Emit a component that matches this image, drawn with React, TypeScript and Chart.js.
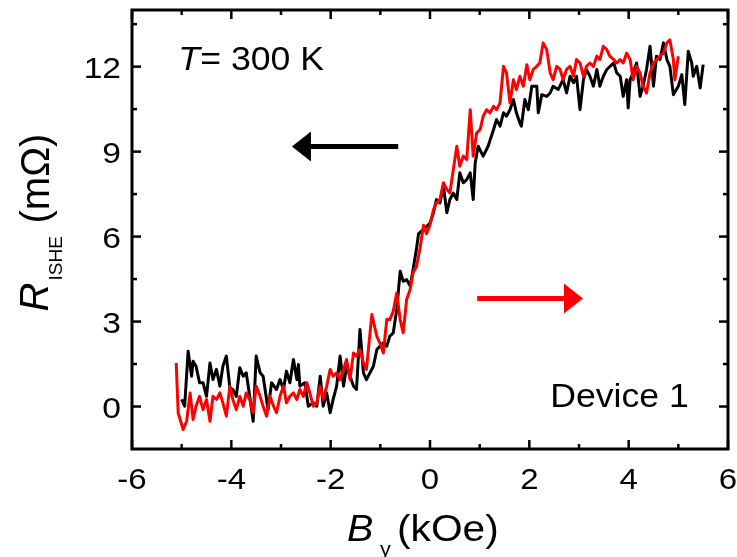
import React, { useEffect, useRef } from "react";
import { Chart, registerables } from "chart.js";

Chart.register(...registerables);

// ---- data (B_y in kOe, R_ISHE in mΩ) ----
const redPoints: number[][] = [
  [-5.11, 1.54], [-5.07, -0.22], [-4.97, -0.81], [-4.9, -0.52], [-4.83, 0.48], [-4.77, -0.46], [-4.71, 0.01], [-4.64, 0.36], [-4.57, -0.11], [-4.5, 0.25],
  [-4.43, -0.52], [-4.37, 0.36], [-4.3, 0.25], [-4.23, 0.48], [-4.17, 0.13], [-4.1, -0.34], [-4.03, 0.72], [-3.97, 0.25], [-3.9, -0.11], [-3.83, 0.36],
  [-3.76, 0.01], [-3.7, 0.48], [-3.63, 0.25], [-3.56, -0.22], [-3.5, 0.72], [-3.42, 0.36], [-3.36, 0.01], [-3.29, -0.34], [-3.22, 0.36], [-3.15, 0.01],
  [-3.09, -0.22], [-3.02, 0.36], [-2.95, 0.72], [-2.89, 0.13], [-2.82, 0.36], [-2.75, 0.48], [-2.68, 0.25], [-2.62, 0.6], [-2.55, 0.36], [-2.48, 0.84],
  [-2.42, 0.48], [-2.35, 0.01], [-2.28, 0.13], [-2.21, 0.72], [-2.15, 0.25], [-2.08, 0.72], [-2.01, 1.31], [-1.95, 1.07], [-1.88, 1.19], [-1.81, 0.95],
  [-1.74, 1.31], [-1.68, 1.66], [-1.61, 0.95], [-1.54, 1.89], [-1.48, 1.78], [-1.41, 2.01], [-1.34, 1.54], [-1.28, 1.31], [-1.17, 3.25], [-1.07, 2.48],
  [-1.01, 2.25], [-0.94, 1.89], [-0.87, 3.07], [-0.81, 3.07], [-0.74, 3.36], [-0.67, 4.01], [-0.6, 3.07], [-0.54, 2.6], [-0.47, 3.78], [-0.4, 4.13],
  [-0.34, 4.72], [-0.27, 4.95], [-0.2, 5.6], [-0.13, 6.4], [-0.07, 6.1], [0.0, 6.4], [0.07, 6.95], [0.13, 7.19], [0.2, 7.31], [0.27, 7.9],
  [0.34, 7.66], [0.4, 7.54], [0.47, 8.37], [0.54, 9.19], [0.6, 8.48], [0.67, 8.84], [0.74, 8.72], [0.81, 10.48], [0.87, 8.84], [0.94, 9.66],
  [1.01, 9.78], [1.07, 10.25], [1.14, 10.48], [1.21, 10.37], [1.28, 10.6], [1.34, 10.48], [1.41, 10.72], [1.48, 12.01], [1.54, 11.78], [1.61, 10.72],
  [1.68, 11.54], [1.74, 11.19], [1.81, 11.66], [1.88, 11.31], [1.95, 12.07], [2.01, 11.54], [2.08, 11.9], [2.15, 12.01], [2.21, 12.13], [2.28, 12.84],
  [2.35, 12.6], [2.42, 11.78], [2.48, 11.54], [2.55, 12.01], [2.62, 11.9], [2.68, 11.54], [2.75, 11.9], [2.82, 12.01], [2.89, 11.66], [2.95, 12.25],
  [3.02, 12.13], [3.09, 11.66], [3.15, 12.01], [3.22, 12.13], [3.29, 12.01], [3.36, 12.37], [3.42, 12.25], [3.49, 12.72], [3.56, 12.6], [3.62, 12.37],
  [3.7, 12.25], [3.76, 12.13], [3.83, 12.25], [3.89, 12.13], [3.96, 12.48], [4.03, 12.25], [4.09, 11.54], [4.16, 12.01], [4.23, 11.78], [4.29, 11.31],
  [4.36, 11.07], [4.43, 11.78], [4.5, 12.13], [4.63, 12.37], [4.7, 12.48], [4.77, 12.84], [4.83, 12.95], [4.9, 12.25], [4.93, 11.54], [5.0, 12.37],
];

const blackPoints: number[][] = [
  [-5.0, 0.25], [-4.94, 0.01], [-4.87, 1.95], [-4.8, 1.07], [-4.77, 1.6], [-4.71, 1.42], [-4.64, 0.84], [-4.57, 0.84], [-4.5, 0.36], [-4.43, 1.54],
  [-4.37, 0.95], [-4.3, 1.31], [-4.23, 0.72], [-4.17, 1.42], [-4.1, 1.78], [-4.03, 0.66], [-3.97, 0.6], [-3.9, 0.36], [-3.83, 1.37], [-3.76, 1.07],
  [-3.7, 1.19], [-3.63, 0.36], [-3.56, -0.52], [-3.5, 1.78], [-3.42, 1.19], [-3.36, 1.07], [-3.29, 0.25], [-3.26, -0.11], [-3.19, 0.84], [-3.09, 0.6],
  [-3.02, 0.95], [-2.95, 0.6], [-2.89, 1.25], [-2.82, 0.84], [-2.75, 1.66], [-2.68, 0.95], [-2.65, 1.48], [-2.62, 0.72], [-2.52, 0.84], [-2.45, 0.01],
  [-2.35, 0.13], [-2.28, 0.01], [-2.21, 1.07], [-2.15, 0.01], [-2.08, 0.48], [-2.01, -0.22], [-1.95, 0.25], [-1.88, 0.72], [-1.81, 1.78], [-1.74, 0.72],
  [-1.68, 1.42], [-1.54, 0.72], [-1.48, 0.6], [-1.41, 2.72], [-1.34, 1.19], [-1.28, 0.95], [-1.21, 1.19], [-1.14, 1.42], [-1.07, 2.01], [-0.94, 2.25],
  [-0.87, 2.13], [-0.81, 2.48], [-0.74, 2.6], [-0.67, 3.42], [-0.6, 4.78], [-0.54, 4.42], [-0.47, 4.48], [-0.4, 4.25], [-0.34, 4.84], [-0.27, 5.6],
  [-0.23, 6.1], [-0.13, 6.25], [0.0, 6.48], [0.07, 6.84], [0.13, 7.31], [0.2, 7.19], [0.27, 7.78], [0.34, 6.84], [0.4, 7.31], [0.47, 7.54],
  [0.54, 7.31], [0.6, 8.25], [0.67, 7.9], [0.74, 8.01], [0.81, 8.25], [0.87, 7.31], [0.91, 8.6], [0.97, 9.19], [1.07, 8.84], [1.17, 9.19],
  [1.28, 9.78], [1.34, 10.13], [1.41, 9.9], [1.48, 10.37], [1.54, 10.25], [1.61, 10.48], [1.68, 10.84], [1.74, 10.37], [1.81, 10.01], [1.84, 9.9],
  [1.91, 10.84], [1.98, 10.48], [2.05, 11.31], [2.15, 11.31], [2.18, 10.37], [2.25, 11.01], [2.35, 10.95], [2.42, 11.07], [2.48, 11.31], [2.58, 11.19],
  [2.68, 11.54], [2.75, 11.07], [2.82, 11.66], [2.89, 11.43], [2.95, 11.66], [3.02, 10.48], [3.09, 11.54], [3.15, 11.9], [3.22, 11.66], [3.29, 11.31],
  [3.36, 11.9], [3.42, 11.31], [3.49, 11.66], [3.56, 11.9], [3.7, 12.13], [3.76, 11.78], [3.83, 11.66], [3.89, 10.95], [3.96, 11.54], [3.99, 10.54],
  [4.03, 11.54], [4.09, 11.78], [4.16, 12.13], [4.23, 10.95], [4.29, 11.31], [4.36, 11.9], [4.43, 12.72], [4.5, 11.31], [4.56, 12.37], [4.63, 12.25],
  [4.7, 12.84], [4.77, 12.25], [4.83, 12.01], [4.9, 11.01], [5.0, 11.31], [5.07, 11.72], [5.13, 10.66], [5.2, 12.54], [5.27, 12.13], [5.3, 11.66],
  [5.37, 12.01], [5.44, 11.25], [5.5, 12.07],
];

const xMajorTicks = [-6, -4, -2, 0, 2, 4, 6];
const xMinorTicks = [-5, -3, -1, 1, 3, 5];
const yMajorTicks = [0, 3, 6, 9, 12];
const yMinorTicks = [1.5, 4.5, 7.5, 10.5, 13.5];
const xRange = [-6, 6];
const yRange = [-1.5, 14];

// annotation arrows (data units): [xFrom, xTo, y]
const blackArrow = [-0.64, -2.78, 9.18];
const redArrow = [0.95, 3.08, 3.81];
const tempLabelPos = [-5.07, 11.87];
const deviceLabelPos = [2.42, 0.0];

const FONT = '"Liberation Sans", Arial, Helvetica, sans-serif';
const SX = 1.08;

function text(ctx: CanvasRenderingContext2D, s: string, x: number, y: number, font: string, align: CanvasTextAlign = "left", sx = SX) {
  ctx.save();
  ctx.translate(x, y);
  ctx.scale(sx, 1);
  ctx.font = font;
  ctx.textAlign = align;
  ctx.textBaseline = "alphabetic";
  ctx.fillStyle = "#000";
  ctx.fillText(s, 0, 0);
  ctx.restore();
}

const framePlugin = {
  id: "frame",
  afterDraw(chart: any) {
    const { ctx, chartArea } = chart;
    const { left, right, top, bottom } = chartArea;
    const xs = chart.scales.x;
    const ys = chart.scales.y;
    ctx.save();
    ctx.strokeStyle = "#000";
    ctx.lineCap = "butt";
    // frame
    ctx.lineWidth = 3;
    ctx.strokeRect(left, top, right - left, bottom - top);
    // ticks
    ctx.lineWidth = 2.5;
    const tick = (x1: number, y1: number, x2: number, y2: number) => {
      ctx.beginPath();
      ctx.moveTo(x1, y1);
      ctx.lineTo(x2, y2);
      ctx.stroke();
    };
    const MAJ = 9, MIN = 5;
    xMajorTicks.forEach((v) => {
      const p = xs.getPixelForValue(v);
      tick(p, bottom, p, bottom - MAJ);
      tick(p, top, p, top + MAJ);
    });
    xMinorTicks.forEach((v) => {
      const p = xs.getPixelForValue(v);
      tick(p, bottom, p, bottom - MIN);
      tick(p, top, p, top + MIN);
    });
    yMajorTicks.forEach((v) => {
      const p = ys.getPixelForValue(v);
      tick(left, p, left + MAJ, p);
      tick(right, p, right - MAJ, p);
    });
    yMinorTicks.forEach((v) => {
      const p = ys.getPixelForValue(v);
      tick(left, p, left + MIN, p);
      tick(right, p, right - MIN, p);
    });
    // tick labels
    const tickFont = `30px ${FONT}`;
    xMajorTicks.forEach((v) => {
      const p = xs.getPixelForValue(v);
      text(ctx, v < 0 ? "-" + Math.abs(v) : String(v), p, bottom + 40, tickFont, "center", 1.1);
    });
    yMajorTicks.forEach((v) => {
      const p = ys.getPixelForValue(v);
      text(ctx, String(v), left - 11, p + 11, tickFont, "right", 1.12);
    });
    // x title: B_y (kOe)
    const tx = xs.getPixelForValue(0) - 83;
    const ty = bottom + 92;
    text(ctx, "B", tx, ty, `italic 36px ${FONT}`, "left", 1.1);
    text(ctx, "y", tx + 33, bottom + 107, `20px ${FONT}`);
    text(ctx, "(kOe)", tx + 50, ty, `36px ${FONT}`, "left", 1.13);
    // y title: R_ISHE (mΩ)
    ctx.save();
    ctx.translate(left - 84, (top + bottom) / 2 + 82);
    ctx.rotate(-Math.PI / 2);
    ctx.fillStyle = "#000";
    ctx.textBaseline = "alphabetic";
    ctx.font = `italic 40px ${FONT}`;
    ctx.fillText("R", 0, 0);
    ctx.font = `19px ${FONT}`;
    ctx.fillText("ISHE", 31, 14);
    ctx.font = `40px ${FONT}`;
    ctx.fillText("(m\u03A9)", 88, 1);
    ctx.restore();
    // annotations
    const annFont = `33px ${FONT}`;
    const lx = xs.getPixelForValue(tempLabelPos[0]);
    const ly = ys.getPixelForValue(tempLabelPos[1]);
    text(ctx, "T", lx, ly, `italic ${annFont}`);
    text(ctx, "= 300 K", lx + 22, ly, annFont);
    text(ctx, "Device 1", xs.getPixelForValue(deviceLabelPos[0]), ys.getPixelForValue(deviceLabelPos[1]), annFont);
    // arrows
    const arrow = (a: number[], color: string) => {
      const x1 = xs.getPixelForValue(a[0]);
      const x2 = xs.getPixelForValue(a[1]);
      const y = ys.getPixelForValue(a[2]);
      const dir = Math.sign(x2 - x1);
      const headLen = 19, headHalf = 15;
      ctx.strokeStyle = color;
      ctx.fillStyle = color;
      ctx.lineWidth = 5;
      ctx.beginPath();
      ctx.moveTo(x1, y);
      ctx.lineTo(x2 - dir * headLen, y);
      ctx.stroke();
      ctx.beginPath();
      ctx.moveTo(x2, y);
      ctx.lineTo(x2 - dir * headLen, y - headHalf);
      ctx.lineTo(x2 - dir * headLen, y + headHalf);
      ctx.closePath();
      ctx.fill();
    };
    arrow(blackArrow, "#000000");
    arrow(redArrow, "#ff0000");
    ctx.restore();
  },
};

export default function App() {
  const ref = useRef<HTMLCanvasElement | null>(null);
  useEffect(() => {
    if (!ref.current) return;
    const chart = new Chart(ref.current, {
      type: "scatter",
      data: {
        datasets: [
          {
            label: "red",
            data: redPoints.map((p) => ({ x: p[0], y: p[1] })),
            showLine: true,
            borderColor: "#ff0000",
            backgroundColor: "#ff0000",
            borderWidth: 3,
            pointRadius: 0,
            borderJoinStyle: "round",
            tension: 0,
          },
          {
            label: "black",
            data: blackPoints.map((p) => ({ x: p[0], y: p[1] })),
            showLine: true,
            borderColor: "#000000",
            backgroundColor: "#000000",
            borderWidth: 3,
            pointRadius: 0,
            borderJoinStyle: "round",
            tension: 0,
          },
        ],
      },
      options: {
        responsive: false,
        animation: false,
        layout: { padding: { left: 132, right: 9, top: 10, bottom: 108 } },
        plugins: { legend: { display: false }, tooltip: { enabled: false } },
        scales: {
          x: { type: "linear", min: xRange[0], max: xRange[1], display: false },
          y: { type: "linear", min: yRange[0], max: yRange[1], display: false },
        },
      },
      plugins: [framePlugin],
    });
    return () => chart.destroy();
  }, []);
  return (
    <div style={{ position: "fixed", left: 0, top: 0, width: 737, height: 557, background: "#fff" }}>
      <canvas ref={ref} width={737} height={557} style={{ display: "block" }} />
    </div>
  );
}
